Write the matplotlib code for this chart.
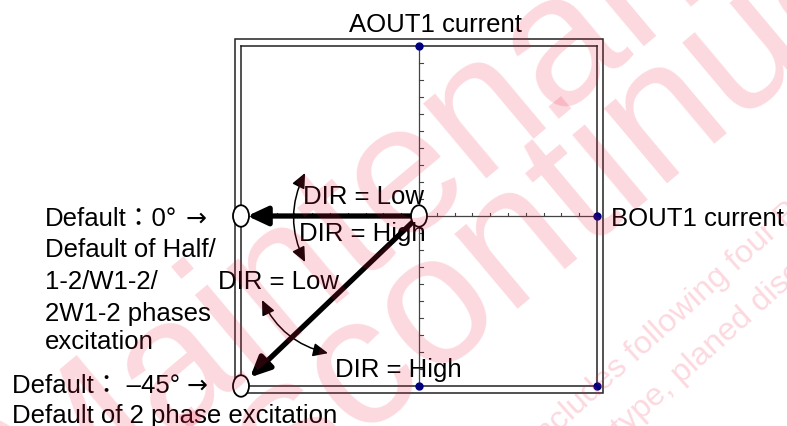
import matplotlib
matplotlib.use('Agg')
import matplotlib.pyplot as plt
from matplotlib.patches import Ellipse, Rectangle

plt.rcParams['font.family'] = ['Liberation Sans', 'Noto Sans CJK JP']

# excitation states (open circles)
state_x = [0, -1, -1]
state_y = [0, 0, -1]
# blue end-point dots on the axes
dot_x = [0, 1, 0, 1]
dot_y = [1, 0, -1, -1]
# minor ticks on both axes
tick_pos = [-0.9, -0.8, -0.7, -0.6, -0.5, -0.4, -0.3, -0.2, -0.1,
            0.1, 0.2, 0.3, 0.4, 0.5, 0.6, 0.7, 0.8, 0.9]
# thick default-position arrows: from origin to state
arrow_to = [(-1, 0), (-1, -1)]
arrow_shrink = [4.5, 9]
# DIR rotation arrows (end points, curvature)
dir_arrows = [((-0.640, 0.253), (-0.640, -0.271), 0.25),
              ((-0.882, -0.494), (-0.511, -0.807), 0.24)]

# labels in pixel coords (left, baseline)
labels = [
    ('AOUT1 current', 349, 32),
    ('BOUT1 current', 611, 226),
    ('DIR = Low', 303, 204),
    ('DIR = High', 299, 241),
    ('DIR = Low', 218, 289),
    ('DIR = High', 335, 377),
    ('Default：0°', 45, 226),
    ('Default of Half/', 45, 257.5),
    ('1-2/W1-2/', 45, 289.5),
    ('2W1-2 phases', 45, 321),
    ('excitation', 45, 349),
    ('Default： –45°', 12, 393),
    ('Default of 2 phase excitation', 12, 423),
]
pointer_marks = [(186, 226), (187, 393)]

W, H = 787, 427
fig = plt.figure(figsize=(W / 100, H / 100), dpi=100)
ax = fig.add_axes([241 / W, 40 / H, 356 / W, 340 / H])
ax.set_xlim(-1, 1)
ax.set_ylim(-1, 1)
ax.set_xticks([])
ax.set_yticks([])
for s in ax.spines.values():
    s.set_linewidth(1.1)
    s.set_color('#222222')

# outer frame
ax.add_patch(Rectangle((-0.0177, -0.0215), 1.0337, 1.0421, transform=ax.transAxes,
                       fill=False, lw=1.1, ec='#222222', clip_on=False))

# axes through origin
ax.plot([0, 0], [-1, 1], color='#444444', lw=0.9, zorder=2)
ax.plot([-1, 1], [0, 0], color='#444444', lw=0.9, zorder=2)
for t in tick_pos:
    ax.plot([t, t], [0, 0.02], color='#444444', lw=0.8, zorder=2)
    ax.plot([0, 0.02], [t, t], color='#444444', lw=0.8, zorder=2)

ax.plot(dot_x, dot_y, 'o', color='#00007f', ms=5, zorder=3, clip_on=False)

for (x, y), sh in zip(arrow_to, arrow_shrink):
    ax.annotate('', xy=(x, y), xytext=(0, 0),
                arrowprops=dict(arrowstyle='-|>,head_length=0.6,head_width=0.28',
                                lw=3.8, color='black', shrinkA=0, shrinkB=sh,
                                mutation_scale=20), zorder=4)

for a, b, rad in dir_arrows:
    ax.annotate('', xy=b, xytext=a,
                arrowprops=dict(arrowstyle='<|-|>,head_length=0.6,head_width=0.27',
                                lw=1.1, color='black', shrinkA=0, shrinkB=0,
                                mutation_scale=15,
                                connectionstyle='arc3,rad=%s' % rad), zorder=4)

for x, y in zip(state_x, state_y):
    ax.add_patch(Ellipse((x, y), 16 / 178, 21.5 / 170, fc='white', ec='black',
                         lw=1.3, zorder=5, clip_on=False))

# overlay in pixel coordinates for labels and watermark
ov = fig.add_axes([0, 0, 1, 1])
ov.set_xlim(0, W)
ov.set_ylim(H, 0)
ov.axis('off')
ov.patch.set_alpha(0)

for txt, x, y in labels:
    ov.text(x, y, txt, fontsize=18.5, ha='left', va='baseline', color='black')
for x, y in pointer_marks:
    ov.text(x, y, '→', fontsize=18, family='DejaVu Sans', ha='left',
            va='baseline', color='black')

# watermark
wm_color = (0.93, 0.1, 0.25)
wm_kw = dict(rotation_mode='anchor', va='baseline',
             color=wm_color, alpha=0.17, zorder=10)
ov.text(50, 532, 'Maintenance/', fontsize=133, ha='left', rotation=40, **wm_kw)
ov.text(152, 603, 'Discontinued', fontsize=133, ha='left', rotation=40, **wm_kw)
small = [('Maintenance/Discontinued ', 'includes following four Product lifecycle stages.',
          540, 449),
         ('planned maintenance ', 'type, planed discontinued type, maintenance type',
          622, 438)]
for pre, post, x, y in small:
    ov.text(x, y, pre, fontsize=23.4, ha='right', rotation=42, **wm_kw)
    ov.text(x, y, post, fontsize=23.4, ha='left', rotation=42, **wm_kw)

fig.savefig('out.png', dpi=100)
